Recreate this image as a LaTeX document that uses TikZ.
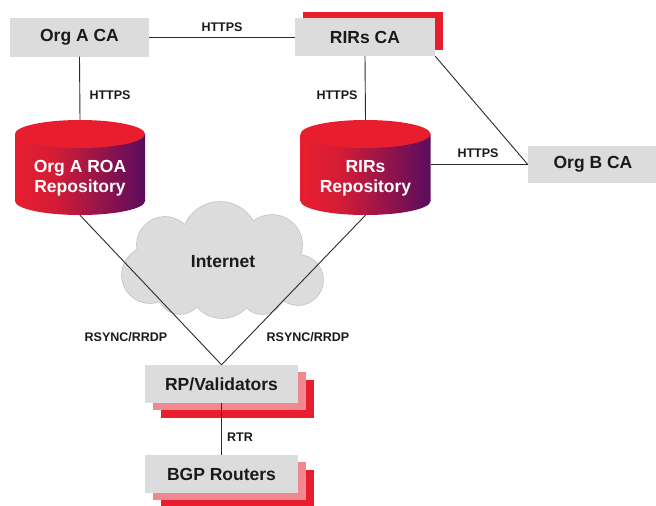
\documentclass[tikz,border=0pt]{standalone}
\usepackage{fontspec}
\setmainfont{Liberation Sans}
\definecolor{cred}{HTML}{E81E2F}
\definecolor{cmid}{HTML}{D41C35}
\definecolor{cpurple}{HTML}{5A0C5E}
\definecolor{cpink}{HTML}{F0888F}
\definecolor{cgray}{HTML}{DCDCDC}
\definecolor{ccloudline}{HTML}{C4C4C4}
\definecolor{cline}{HTML}{2B2B2B}
\definecolor{ctext}{HTML}{1A1A1A}
\pgfdeclarehorizontalshading{cylshade}{100bp}{color(0bp)=(cred); color(25bp)=(cred); color(40bp)=(cmid); color(75bp)=(cpurple); color(100bp)=(cpurple)}
\tikzset{
  box/.style={rectangle, fill=cgray, minimum width=153pt, minimum height=38pt, inner sep=0pt,
    font=\bfseries\fontsize{17.5}{20}\selectfont, text=ctext},
  shpink/.style={rectangle, fill=cpink, minimum width=153pt, minimum height=38pt, inner sep=0pt},
  shred/.style={rectangle, fill=cred, minimum width=153pt, minimum height=38pt, inner sep=0pt},
  cylph/.style={rectangle, minimum width=130pt, minimum height=95pt, inner sep=0pt},
  cyltxt/.style={align=center, text=white, inner sep=0pt,
    font=\bfseries\fontsize{17.5}{20}\selectfont},
  lbl/.style={inner sep=0pt, text=ctext, font=\bfseries\fontsize{12.5}{14}\selectfont},
  conn/.style={draw=cline, line width=0.9pt},
}
\newcommand\mycyl[1]{%
  \shade[shading=cylshade] (#1-65,134) -- (#1-65,201)
    arc[start angle=180, end angle=0, x radius=65, y radius=14] -- (#1+65,134) -- cycle;
  \fill[cred] (#1,134) ellipse[x radius=65, y radius=14];
}
\newcommand\cloudcircles{220/240/38,165/245/28,272/245/30,298/280/25,150/275/28,222/285/33,180/292/22,262/292/22}
\begin{document}
\begin{tikzpicture}[x=1pt,y=-1pt]
\useasboundingbox (0,0) rectangle (656,506);
% cloud
\foreach \cx/\cy/\r in \cloudcircles
  \draw[ccloudline, line width=1.6pt] (\cx,\cy) circle[radius=\r];
\foreach \cx/\cy/\r in \cloudcircles
  \fill[cgray] (\cx,\cy) circle[radius=\r];
\fill[cgray] (224,268) ellipse[x radius=72, y radius=32];
\node[font=\bfseries\fontsize{17.5}{20}\selectfont, text=ctext, inner sep=0pt] (net) at (223,262) {Internet};

% cylinders
\mycyl{80}
\mycyl{365.5}
\node[cylph] (rep1) at (80,167.5) {};
\node[cylph] (rep2) at (365.5,167.5) {};
\node[cyltxt] (rep1t) at (80,178) {Org A ROA\\Repository};
\node[cyltxt] (rep2t) at (365.5,178) {RIRs\\Repository};

% boxes
\node[box, minimum width=139pt, minimum height=39pt] (orgaca) at (79.5,37) {Org A CA};
\node[shred, minimum width=140pt, minimum height=38pt] (rirsred) at (373,31) {};
\node[box, minimum width=140pt, minimum height=38pt] (rirsca) at (365,37) {RIRs CA};
\node[box, minimum width=130pt, minimum height=37pt] (orgbca) at (593,164.5) {Org B CA};

\node[shred] (rpvr) at (237.5,398.5) {};
\node[shpink] (rpvp) at (229.5,391) {};
\node[box] (rpv) at (221.5,384) {RP/Validators};
\node[shred] (bgpr) at (237.5,488.5) {};
\node[shpink] (bgpp) at (229.5,481) {};
\node[box] (bgp) at (221.5,474) {BGP Routers};

% connectors
\draw[conn] (orgaca.east) -- (rirsca.west);
\draw[conn] (orgaca.south) -- (rep1.north);
\draw[conn] (rirsca.south) -- (rep2.north);
\draw[conn] (rirsca.south east) -- (orgbca.west);
\draw[conn] (rep2.east |- orgbca.west) -- (orgbca.west);
\draw[conn] (rep1.south) -- (rpv.north);
\draw[conn] (rep2.south) -- (rpv.north);
\draw[conn] (rpv.south) -- (bgp.north);

% labels
\node[lbl] (l1) at (222,27) {HTTPS};
\node[lbl] (l2) at (110,95) {HTTPS};
\node[lbl] (l3) at (337,95) {HTTPS};
\node[lbl] (l4) at (478,153) {HTTPS};
\node[lbl] (l5) at (126,337) {RSYNC/RRDP};
\node[lbl] (l6) at (308,337) {RSYNC/RRDP};
\node[lbl] (l7) at (240,437) {RTR};
\end{tikzpicture}
\end{document}
